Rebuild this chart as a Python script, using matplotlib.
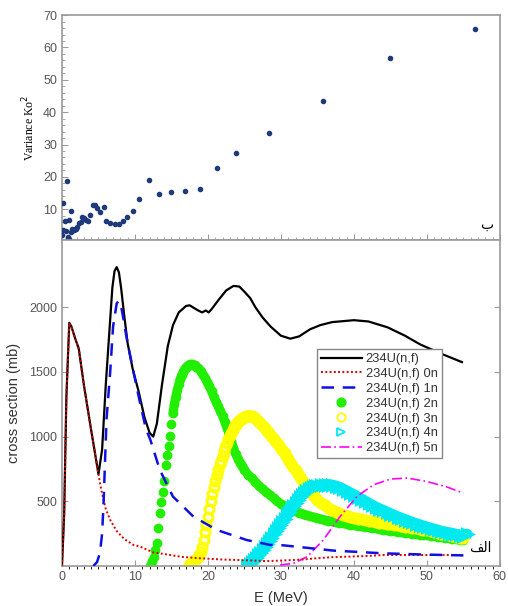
import numpy as np
import matplotlib
matplotlib.use('Agg')
import matplotlib.pyplot as plt
from matplotlib.ticker import MultipleLocator

plt.rcParams['font.family'] = ['Liberation Sans', 'DejaVu Sans']

# ---- top panel: variance ----
E_var = [0.05, 0.18, 0.2, 0.4, 0.6, 0.64, 0.8, 0.85, 0.9, 1.0, 1.2, 1.3, 1.4, 1.6, 1.8,
         1.9, 2.0, 2.3, 2.6, 2.8, 3.0, 3.3, 3.5, 3.8, 4.2, 4.5, 4.8, 5.2, 5.7, 6.1, 6.6,
         7.2, 7.8, 8.3, 8.9, 9.7, 10.6, 11.9, 13.3, 15.0, 16.8, 18.9, 21.2, 23.8, 28.4,
         35.7, 44.9, 56.6]
var = [1.9, 12.0, 3.6, 6.4, 3.4, 18.8, 1.5, 1.0, 0.7, 6.7, 3.1, 9.6, 3.8, 3.5, 4.0,
       3.8, 4.5, 5.7, 6.1, 7.5, 7.4, 6.8, 6.4, 8.2, 11.3, 11.3, 10.3, 9.0, 10.6, 6.5, 5.7,
       5.4, 5.4, 6.5, 7.5, 9.5, 13.2, 19.1, 14.7, 15.3, 15.7, 16.2, 22.8, 27.3, 33.5,
       43.6, 56.9, 65.7]

# ---- bottom panel: cross sections (mb) ----
E_tot = [0, 0.3, 0.6, 1.0, 1.3, 1.8, 2.3, 3.0, 4.0, 5.0, 5.5, 6.0, 6.6, 6.9, 7.2, 7.5,
         7.8, 8.1, 8.5, 9.0, 9.7, 10.5, 11.3, 12.0, 12.5, 13.0, 13.7, 14.5, 15.2, 16.0,
         17.0, 17.5, 18.5, 19.2, 19.7, 20.1, 20.5, 21.5, 22.5, 23.5, 24.3, 25.0, 25.8,
         26.5, 27.5, 28.6, 30.0, 31.3, 32.5, 34.0, 35.4, 37.0, 40.0, 42.0, 44.6, 47.0,
         49.1, 52.0, 54.8]
sig_tot = [0, 400, 1300, 1880, 1850, 1760, 1680, 1400, 1050, 710, 900, 1400, 1900, 2150,
           2280, 2310, 2270, 2150, 1950, 1720, 1520, 1350, 1150, 1030, 1000, 1100, 1400,
           1700, 1860, 1960, 2010, 2015, 1980, 1960, 1975, 1960, 1985, 2060, 2130, 2165,
           2160, 2120, 2070, 2000, 1920, 1850, 1780, 1757, 1775, 1830, 1862, 1885, 1900,
           1890, 1845, 1780, 1712, 1640, 1576]

E_0n = [0, 0.3, 0.6, 1.0, 1.3, 1.8, 2.3, 3.0, 4.0, 5.0, 5.2, 5.5, 6.0, 6.6, 7.5, 8.5,
        9.8, 10.7, 12.5, 13.4, 16.5, 18.9, 22.0, 24.4, 28.0, 30.0, 33.0, 34.9, 37.0, 42.0,
        44.0, 49.0, 55.0]
sig_0n = [0, 400, 1300, 1880, 1850, 1760, 1680, 1400, 1050, 710, 643, 560, 440, 357,
          270, 210, 163, 150, 105, 98, 70, 60, 50, 46, 38, 42, 50, 60, 68, 78, 85, 85, 85]

E_1n = [4.3, 4.8, 5.2, 5.5, 5.7, 6.1, 6.6, 7.0, 7.5, 7.8, 8.2, 8.9, 9.8, 10.7, 11.5,
        12.1, 13.4, 15.2, 18.0, 21.2, 25.3, 28.5, 30.3, 37.2, 44.0, 50.0, 55.0]
sig_1n = [0, 30, 100, 250, 488, 1130, 1495, 1850, 2030, 2050, 1980, 1750, 1500, 1260,
          1060, 977, 744, 537, 382, 279, 201, 163, 160, 119, 98, 88, 82]

E_2n = [12.0, 12.2, 12.4, 12.6, 12.8, 13.0, 13.2, 13.4, 13.6, 13.8, 14.0, 14.2, 14.4,
        14.6, 14.8, 15.0, 15.2, 15.4, 15.6, 15.8, 16.0, 16.2, 16.4, 16.6, 16.8, 17.0,
        17.2, 17.4, 17.6, 17.8, 18.0, 18.2, 18.4, 18.7, 19.0, 19.3, 19.6, 19.9, 20.2,
        20.5, 20.8, 21.1, 21.4, 21.7, 22.0, 22.3, 22.6, 22.9, 23.2, 23.5, 23.8, 24.1,
        24.4, 24.7, 25.0, 25.5, 26.0, 26.5, 27.0, 27.5, 28.0, 28.5, 29.0, 29.5, 30.0,
        30.5, 31.0, 31.5, 32.0, 32.5, 33.0, 33.5, 34.0, 34.5, 35.0, 35.5, 36.0, 36.5,
        37.0, 37.5, 38.0, 38.5, 39.0, 39.5, 40.0, 40.5, 41.0, 41.5, 42.0, 42.5, 43.0,
        43.5, 44.0, 44.5, 45.0, 45.5, 46.0, 46.5, 47.0, 47.5, 48.0, 48.5, 49.0, 49.5,
        50.0, 50.5, 51.0, 51.5, 52.0, 52.5, 53.0, 53.5, 54.0, 54.5, 55.0]
sig_2n = [0, 12, 35, 70, 120, 176, 290, 408, 495, 575, 655, 780, 860, 930, 1002, 1095,
          1183, 1250, 1310, 1360, 1405, 1445, 1475, 1500, 1520, 1535, 1547, 1554, 1558,
          1558, 1555, 1550, 1542, 1530, 1505, 1480, 1455, 1425, 1390, 1350, 1310, 1270,
          1235, 1200, 1160, 1115, 1070, 1020, 965, 910, 865, 830, 800, 775, 745, 705, 680,
          650, 620, 595, 570, 550, 525, 500, 480, 465, 450, 438, 425, 413, 403, 393, 385,
          377, 370, 362, 356, 350, 345, 340, 335, 330, 325, 320, 315, 311, 306, 302, 298,
          294, 290, 285, 280, 276, 272, 268, 264, 260, 256, 253, 250, 246, 243, 240, 237,
          234, 230, 226, 222, 218, 214, 210, 206, 203, 200]

E_3n = [17.4, 17.6, 17.8, 18.0, 18.2, 18.4, 18.6, 18.8, 19.0, 19.2, 19.4, 19.6, 19.8,
        20.0, 20.2, 20.4, 20.6, 20.8, 21.0, 21.2, 21.4, 21.6, 21.8, 22.0, 22.2, 22.4,
        22.6, 22.8, 23.0, 23.2, 23.4, 23.6, 23.8, 24.0, 24.2, 24.4, 24.6, 24.8, 25.0,
        25.2, 25.4, 25.6, 25.8, 26.0, 26.3, 26.6, 26.9, 27.2, 27.5, 27.8, 28.1, 28.4,
        28.7, 29.0, 29.3, 29.6, 29.9, 30.2, 30.5, 30.8, 31.1, 31.4, 31.7, 32.0, 32.3,
        32.6, 32.9, 33.2, 33.5, 33.8, 34.1, 34.4, 34.7, 35.0, 35.5, 36.0, 36.5, 37.0,
        37.5, 38.0, 38.5, 39.0, 39.5, 40.0, 40.5, 41.0, 41.5, 42.0, 42.5, 43.0, 43.5,
        44.0, 44.5, 45.0, 45.5, 46.0, 46.5, 47.0, 47.5, 48.0, 48.5, 49.0, 49.5, 50.0,
        50.5, 51.0, 51.5, 52.0, 52.5, 53.0, 53.5, 54.0, 54.5, 55.0]
sig_3n = [5, 15, 25, 35, 45, 55, 70, 88, 110, 150, 200, 260, 320, 382, 440, 500, 560,
          610, 660, 700, 745, 785, 815, 850, 890, 920, 951, 980, 1005, 1030, 1055, 1075,
          1092, 1106, 1118, 1128, 1138, 1146, 1152, 1157, 1160, 1161, 1160, 1156, 1148,
          1136, 1120, 1104, 1085, 1066, 1046, 1026, 1005, 985, 962, 940, 920, 895, 870,
          843, 815, 790, 765, 740, 715, 690, 665, 640, 615, 592, 570, 552, 535, 510, 488,
          468, 450, 435, 420, 408, 397, 388, 380, 373, 367, 361, 355, 350, 345, 340, 335,
          330, 326, 322, 318, 314, 310, 305, 300, 295, 290, 285, 280, 275, 268, 262, 256,
          250, 244, 238, 232, 226, 220, 215]

E_4n = [25.4, 25.7, 26.0, 26.3, 26.6, 26.9, 27.2, 27.5, 27.8, 28.1, 28.4, 28.7, 29.0,
        29.3, 29.6, 29.9, 30.2, 30.5, 30.8, 31.1, 31.4, 31.7, 32.0, 32.3, 32.6, 32.9,
        33.2, 33.5, 33.8, 34.1, 34.4, 34.7, 35.0, 35.5, 36.0, 36.5, 37.0, 37.5, 38.0,
        38.5, 39.0, 39.5, 40.0, 40.5, 41.0, 41.5, 42.0, 42.5, 43.0, 43.5, 44.0, 44.5,
        45.0, 45.5, 46.0, 46.5, 47.0, 47.5, 48.0, 48.5, 49.0, 49.5, 50.0, 50.5, 51.0,
        51.5, 52.0, 52.5, 53.0, 53.5, 54.0, 54.5, 55.0, 55.5]
sig_4n = [0, 15, 30, 48, 65, 82, 100, 122, 146, 170, 195, 220, 246, 272, 296, 320, 343,
          367, 392, 418, 442, 466, 490, 512, 532, 550, 566, 580, 592, 602, 610, 616, 620,
          625, 628, 628, 625, 618, 608, 595, 580, 565, 550, 535, 518, 502, 486, 470, 455,
          442, 430, 417, 404, 392, 380, 369, 358, 347, 337, 327, 318, 309, 300, 292, 284,
          276, 268, 262, 256, 250, 245, 240, 235, 245]

E_5n = [29.9, 31.7, 33.6, 35.8, 38.1, 40.4, 42.7, 45.0, 47.3, 50.0, 52.8, 55.0]
sig_5n = [8, 20, 72, 201, 382, 537, 628, 672, 680, 653, 610, 563]

fig = plt.figure(figsize=(5.08, 6.06), dpi=100)
ax1 = fig.add_axes([0.122, 0.604, 0.862, 0.371])
ax2 = fig.add_axes([0.122, 0.066, 0.862, 0.538], sharex=ax1)

spine_c = '#9a9a9a'
tick_c = '#555555'
c2, c3, c4 = '#22ee00', '#ffff00', '#00e8f0'

# top panel
ax1.scatter(E_var, var, s=9, color='#1f3a7a', zorder=3)
ax1.set_xlim(0, 60)
ax1.set_ylim(0.5, 70)
ax1.set_yticks([10, 20, 30, 40, 50, 60, 70])
ax1.yaxis.set_minor_locator(MultipleLocator(2))
ax1.xaxis.set_minor_locator(MultipleLocator(1))
ax1.set_ylabel('Variance Ko$^2$', family='Liberation Serif', fontsize=8.5, labelpad=4)
ax1.text(0.985, 0.035, '\u0628', transform=ax1.transAxes, ha='right', va='bottom',
         fontsize=10, family='DejaVu Sans')
ax1.tick_params(axis='x', which='both', direction='in', labelbottom=False, colors=spine_c)
ax1.tick_params(axis='y', which='both', direction='in', colors=spine_c,
                labelcolor=tick_c, labelsize=9)
ax1.tick_params(which='major', length=4)
ax1.tick_params(which='minor', length=2)

# bottom panel
ax2.plot(E_tot, sig_tot, color='black', lw=1.6, label='234U(n,f)', zorder=4)
ax2.plot(E_0n, sig_0n, color='#e00000', lw=1.4, ls=(0, (1, 1.2)), label='234U(n,f) 0n',
         zorder=5)
ax2.plot(E_1n, sig_1n, color='#1010e0', lw=1.8, ls=(0, (5, 3.5)), label='234U(n,f) 1n',
         zorder=5)

# dense marker series merge into a band where the points crowd together
ax2.plot(E_2n[16:], sig_2n[16:], color=c2, lw=6.5, solid_capstyle='round', zorder=2)
ax2.plot(E_3n[28:], sig_3n[28:], color=c3, lw=8, solid_capstyle='round', zorder=2)
ax2.plot(E_4n, sig_4n, color=c4, lw=8, solid_capstyle='round', zorder=2)

ax2.plot(E_2n, sig_2n, ls='none', marker='o', ms=6, color=c2, mec=c2,
         label='234U(n,f) 2n', zorder=2)
ax2.plot(E_3n, sig_3n, ls='none', marker='o', ms=6.5, mfc='none', mec=c3, mew=2.2,
         label='234U(n,f) 3n', zorder=2)
ax2.plot(E_4n, sig_4n, ls='none', marker='>', ms=7, mfc='none', mec=c4, mew=2.2,
         label='234U(n,f) 4n', zorder=2)
ax2.plot(E_5n, sig_5n, color='#ff00ff', lw=1.2, ls=(0, (6, 2, 1, 2)), label='234U(n,f) 5n',
         zorder=3)

ax2.set_xlim(0, 60)
ax2.set_ylim(0, 2520)
ax2.set_xticks([0, 10, 20, 30, 40, 50, 60])
ax2.set_yticks([500, 1000, 1500, 2000])
ax2.set_xlabel('E (MeV)', fontsize=10.5, color='#333333', labelpad=6)
ax2.set_ylabel('cross section (mb)', fontsize=10.5, color='#333333', labelpad=6)
ax2.tick_params(axis='both', direction='in', colors=spine_c, labelcolor=tick_c,
                labelsize=9, length=4, right=True)
ax2.text(0.98, 0.055, '\ufed2\ufedf\ufe8d', transform=ax2.transAxes, ha='right',
         va='center', fontsize=10, family='DejaVu Sans')

leg = ax2.legend(loc='upper left', bbox_to_anchor=(0.567, 0.685), fontsize=9.3,
                 handlelength=3.2, numpoints=1, borderpad=0.3, labelspacing=0.22,
                 handletextpad=0.3, fancybox=False, framealpha=1, edgecolor='#888888')
for t in leg.get_texts():
    t.set_color('#333333')
for h in leg.legend_handles[3:6]:
    h.set_markersize(6)
    h.set_markeredgewidth(1.3)

for ax in (ax1, ax2):
    for s in ax.spines.values():
        s.set_color(spine_c)
        s.set_linewidth(1.2)

fig.savefig('out.png', dpi=100)
